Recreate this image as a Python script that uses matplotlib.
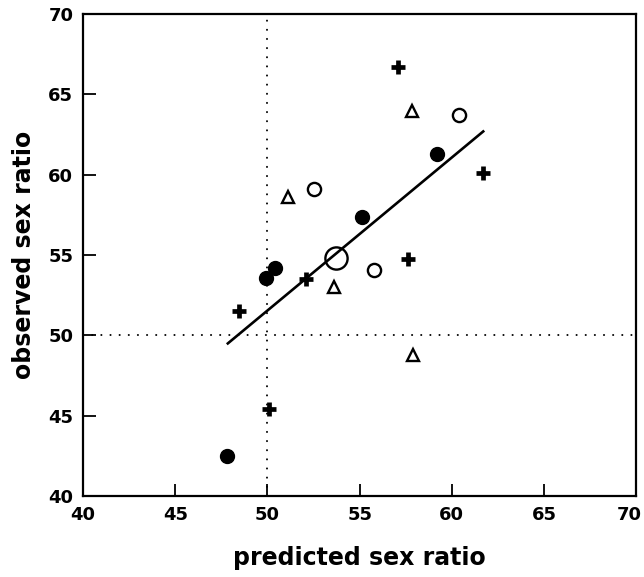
import matplotlib.pyplot as plt
import matplotlib.transforms as mtransforms

plt.rcParams['font.family'] = ['DejaVu Sans']
plt.rcParams['font.weight'] = 'bold'

# Data
plus_x = [57.1, 61.7, 52.1, 57.6, 48.45, 50.1]
plus_y = [66.7, 60.1, 53.5, 54.75, 51.5, 45.4]

tri_x = [57.85, 51.1, 53.6, 57.9]
tri_y = [64.0, 58.6, 53.0, 48.8]

open_x = [60.4, 52.5, 55.8]
open_y = [63.7, 59.1, 54.1]

big_x = [53.7]
big_y = [54.8]

filled_x = [59.2, 55.15, 49.9, 50.4, 47.8]
filled_y = [61.3, 57.4, 53.6, 54.2, 42.5]

fit_x = [47.85, 61.7]
fit_y = [49.5, 62.7]

ticks = [40, 45, 50, 55, 60, 65, 70]

fig = plt.figure(figsize=(6.44, 5.77), dpi=100)
ax = fig.add_axes([0.129, 0.1404, 0.859, 0.835])

# reference lines at 50
dot = dict(color='black', lw=1.4, linestyle=(0, (0.1, 4.6)), dash_capstyle='round', zorder=1)
ax.axhline(50, **dot)
ax.axvline(50, **dot)

# regression line
ax.plot(fit_x, fit_y, color='black', lw=1.9, zorder=2)

# points
ax.plot(plus_x, plus_y, linestyle='none', marker='+', ms=10, mew=3.4, color='black', zorder=3)
ax.plot(tri_x, tri_y, linestyle='none', marker='^', ms=9, mew=1.7, mfc='white', mec='black', zorder=3)
ax.plot(open_x, open_y, linestyle='none', marker='o', ms=9.5, mew=1.7, mfc='white', mec='black', zorder=3)
ax.plot(big_x, big_y, linestyle='none', marker='o', ms=16, mew=1.7, mfc='none', mec='black', zorder=4)
ax.plot(filled_x, filled_y, linestyle='none', marker='o', ms=10, color='black', zorder=3)

ax.set_xlim(40, 70)
ax.set_ylim(40, 70)
ax.set_xticks(ticks)
ax.set_yticks(ticks)
ax.tick_params(direction='in', length=9, width=1.3, labelsize=13, pad=7,
               top=False, right=False)
for lab in ax.get_xticklabels() + ax.get_yticklabels():
    lab.set_fontweight('bold')

# keep the last x label inside the figure
last = ax.get_xticklabels()[-1]
last.set_horizontalalignment('right')
last.set_transform(last.get_transform() + mtransforms.ScaledTranslation(5 / 100, 0, fig.dpi_scale_trans))

for s in ax.spines.values():
    s.set_linewidth(1.6)

ax.set_xlabel('predicted sex ratio', fontsize=17, fontweight='bold', labelpad=16)
ax.set_ylabel('observed sex ratio', fontsize=17, fontweight='bold', labelpad=9)

fig.savefig('out.png', dpi=100)
